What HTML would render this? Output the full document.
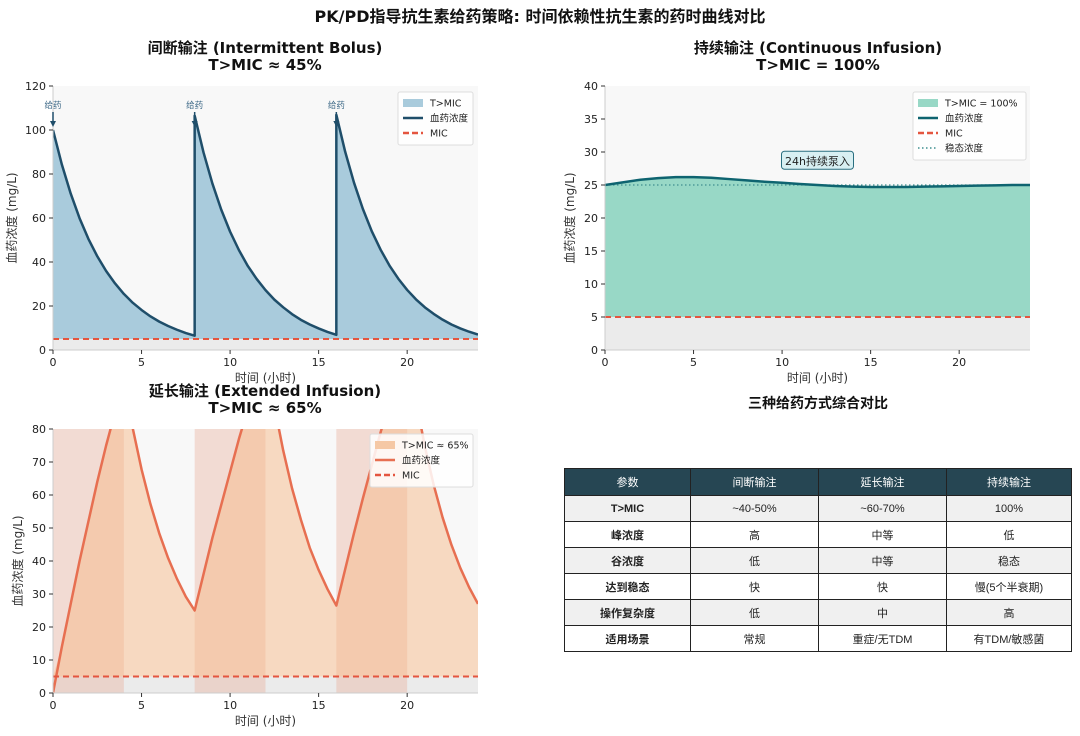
<!DOCTYPE html>
<html><head><meta charset="utf-8">
<style>
body{margin:0;background:#fff;width:1080px;height:736px;overflow:hidden;font-family:"Liberation Sans","Noto Sans CJK SC",sans-serif;}
svg text{font-family:"DejaVu Sans","Liberation Sans","Noto Sans CJK SC",sans-serif;}
table{position:absolute;left:564px;top:468px;width:508px;border-collapse:collapse;font-family:"Liberation Sans","Noto Sans CJK SC",sans-serif;font-size:11px;color:#222}
td,th{border:1px solid #222;text-align:center;height:25px;padding:0}
th{background:#264653;color:#fff;font-weight:normal;height:26px}
tr.g td{background:#f0f0f0}
td.b{font-weight:bold}
</style></head><body>
<svg id="s" width="1080" height="736" style="position:absolute;left:0;top:0">
<text x="540" y="22" text-anchor="middle" font-size="16" font-weight="bold" fill="#111">PK/PD指导抗生素给药策略: 时间依赖性抗生素的药时曲线对比</text>
<text x="265" y="53" text-anchor="middle" font-size="15" font-weight="bold" fill="#111">间断输注 (Intermittent Bolus)</text>
<text x="265" y="70" text-anchor="middle" font-size="15" font-weight="bold" fill="#111">T&gt;MIC ≈ 45%</text>
<text x="818" y="53" text-anchor="middle" font-size="15" font-weight="bold" fill="#111">持续输注 (Continuous Infusion)</text>
<text x="818" y="70" text-anchor="middle" font-size="15" font-weight="bold" fill="#111">T&gt;MIC = 100%</text>
<text x="265" y="396" text-anchor="middle" font-size="15" font-weight="bold" fill="#111">延长输注 (Extended Infusion)</text>
<text x="265" y="413" text-anchor="middle" font-size="15" font-weight="bold" fill="#111">T&gt;MIC ≈ 65%</text>
<text x="818" y="408" text-anchor="middle" font-size="14" font-weight="bold" fill="#111">三种给药方式综合对比</text>
</svg>
<table>
<tr><th style="width:125px">参数</th><th style="width:127px">间断输注</th><th style="width:127px">延长输注</th><th>持续输注</th></tr>
<tr class="g"><td class="b">T&gt;MIC</td><td>~40-50%</td><td>~60-70%</td><td>100%</td></tr>
<tr><td class="b">峰浓度</td><td>高</td><td>中等</td><td>低</td></tr>
<tr class="g"><td class="b">谷浓度</td><td>低</td><td>中等</td><td>稳态</td></tr>
<tr><td class="b">达到稳态</td><td>快</td><td>快</td><td>慢(5个半衰期)</td></tr>
<tr class="g"><td class="b">操作复杂度</td><td>低</td><td>中</td><td>高</td></tr>
<tr><td class="b">适用场景</td><td>常规</td><td>重症/无TDM</td><td>有TDM/敏感菌</td></tr>
</table>
<script>
const MIC = 5;
const xTicks = [0,5,10,15,20];
const bolusTicksY = [0,20,40,60,80,100,120];
const contTicksY = [0,5,10,15,20,25,30,35,40];
const extTicksY = [0,10,20,30,40,50,60,70,80];
const bolusT = [0,0.5,1,1.5,2,2.5,3,3.5,4,4.5,5,5.5,6,6.5,7,7.5,8,8,8.5,9,9.5,10,10.5,11,11.5,12,12.5,13,13.5,14,14.5,15,15.5,16,16,16.5,17,17.5,18,18.5,19,19.5,20,20.5,21,21.5,22,22.5,23,23.5,24];
const bolusC = [100,84.3,71.1,59.9,50.5,42.6,35.9,30.3,25.5,21.5,18.2,15.3,12.9,10.9,9.2,7.7,6.5,106.5,89.8,75.7,63.8,53.8,45.4,38.2,32.3,27.2,22.9,19.4,16.3,13.7,11.6,9.8,8.2,6.9,106.9,90.1,76,64.1,54,45.6,38.4,32.4,27.3,23,19.4,16.4,13.8,11.6,9.8,8.3,7];
const doseTimes = [0,8,16];
const contT = [0,1,2,3,4,5,6,7,8,9,10,11,12,13,14,15,16,17,18,19,20,21,22,23,24];
const contC = [25,25.4,25.8,26.05,26.2,26.2,26.1,25.9,25.7,25.5,25.35,25.15,25.0,24.85,24.75,24.7,24.7,24.7,24.75,24.8,24.85,24.9,24.95,25,25];
const steadyC = 25;
const extT = [0,0.5,1,1.5,2,2.5,3,3.5,4,4.5,5,5.5,6,6.5,7,7.5,8,8.5,9,9.5,10,10.5,11,11.5,12,12.5,13,13.5,14,14.5,15,15.5,16,16.5,17,17.5,18,18.5,19,19.5,20,20.5,21,21.5,22,22.5,23,23.5,24];
const extC = [0,14,27,40,52,64,75,85,95,80.3,67.8,57.3,48.4,40.9,34.6,29.2,25,36,47,57,67,77,86,95,103,87,73.5,62,52.5,44,37.3,31.5,26.5,37.5,48.5,59,69,79,88,97,105,88.6,74.7,63,53.2,44.9,37.9,32,27];
const infusionStart = [0,8,16];
const infusionLen = 4;

const svg = document.getElementById('s');
const NS = 'http://www.w3.org/2000/svg';
function mk(tag, attrs, parent){const e=document.createElementNS(NS,tag);for(const k in attrs)e.setAttribute(k,attrs[k]);(parent||svg).appendChild(e);return e;}

function panel(o){
  const sx = v => o.x0 + (v-0)/24*(o.x1-o.x0);
  const sy = v => o.yb - v/o.ymax*(o.yb-o.yt);
  const g = mk('g',{});
  
  
  const clipId = o.name+'-clip';
  const cp = mk('clipPath',{id:clipId},g); mk('rect',{x:o.x0,y:o.yt,width:o.x1-o.x0,height:o.yb-o.yt},cp);
  const bg = mk('rect',{x:o.x0,y:o.yt,width:o.x1-o.x0,height:o.yb-o.yt,fill:'#f8f8f8'},g);
  
  
  const sub = mk('rect',{x:o.x0,y:sy(MIC),width:o.x1-o.x0,height:o.yb-sy(MIC),fill:'#ebebeb'},g);
  
  
  const cg = mk('g',{'clip-path':'url(#'+clipId+')'},g);
  o.extra && o.extra(cg, sx, sy);
  let d = 'M'+sx(o.T[0])+','+sy(o.fillBase);
  o.T.forEach((t,i)=>{d+=' L'+sx(t)+','+sy(Math.max(o.C[i],o.fillBase));});
  d += ' L'+sx(o.T[o.T.length-1])+','+sy(o.fillBase)+' Z';
  const f = mk('path',{d:d,fill:o.fill,'fill-opacity':o.fillOp},cg);
  
  
  o.afterFill && o.afterFill(cg, sx, sy);
  let ld = '';
  o.T.forEach((t,i)=>{ld+=(i?' L':'M')+sx(t)+','+sy(o.C[i]);});
  const ln = mk('path',{d:ld,fill:'none',stroke:o.line,'stroke-width':2.5,'stroke-linejoin':'round'},cg);
  
  
  const mic = mk('line',{x1:o.x0,x2:o.x1,y1:sy(MIC),y2:sy(MIC),stroke:'#e4553f','stroke-width':2,'stroke-dasharray':'6,4'},g);
  
  
  mk('line',{x1:o.x0,x2:o.x0,y1:o.yt,y2:o.yb,stroke:'#ccc','stroke-width':1},g);
  mk('line',{x1:o.x0,x2:o.x1,y1:o.yb,y2:o.yb,stroke:'#ccc','stroke-width':1},g);
  xTicks.forEach(v=>{
    mk('line',{x1:sx(v),x2:sx(v),y1:o.yb,y2:o.yb+4,stroke:'#333'},g);
    const t = mk('text',{x:sx(v),y:o.yb+16,'text-anchor':'middle','font-size':11,fill:'#222'},g); t.textContent=v;
    
    
  });
  o.yTicks.forEach(v=>{
    mk('line',{x1:o.x0-4,x2:o.x0,y1:sy(v),y2:sy(v),stroke:'#333'},g);
    const t = mk('text',{x:o.x0-7,y:sy(v)+4,'text-anchor':'end','font-size':11,fill:'#222'},g); t.textContent=v;
    
    
  });
  const xl = mk('text',{x:(o.x0+o.x1)/2,y:o.yb+32,'text-anchor':'middle','font-size':12,fill:'#333'},g); xl.textContent='时间 (小时)';
  
  
  const yx=o.ylx, yy=(o.yt+o.yb)/2;
  const yl = mk('text',{x:yx,y:yy,'text-anchor':'middle','font-size':12,fill:'#333',transform:'rotate(-90 '+yx+' '+yy+')'},g); yl.textContent='血药浓度 (mg/L)';
  
  
  const L = o.legend;
  const lg = mk('g',{},g);
  
  
  mk('rect',{x:L.x,y:L.y,width:L.w,height:8+L.items.length*15,fill:'#fff','fill-opacity':0.85,stroke:'#ddd',rx:2},lg);
  L.items.forEach((it,i)=>{
    const cy = L.y+11+i*15;
    if(it.type==='patch') mk('rect',{x:L.x+5,y:cy-4,width:20,height:8,fill:it.color,'fill-opacity':it.op||1},lg);
    else mk('line',{x1:L.x+5,x2:L.x+25,y1:cy,y2:cy,stroke:it.color,'stroke-width':it.type==='dot'?1.5:2.5,'stroke-dasharray':it.type==='dash'?'6,3':(it.type==='dot'?'1.5,2.5':'none')},lg);
    const t = mk('text',{x:L.x+32,y:cy+3.5,'font-size':9.5,fill:'#222'},lg); t.textContent=it.label;
    
    
  });
  return {sx,sy,g};
}

const A = panel({name:'bolus',x0:53,x1:478,yt:86,yb:350,ymax:120,yTicks:bolusTicksY,T:bolusT,C:bolusC,fillBase:MIC,fill:'#a9cbdc',fillOp:1,line:'#1f4e6a',ylx:16,
  legend:{x:398,y:92,w:75,items:[{type:'patch',color:'#a9cbdc',label:'T>MIC'},{type:'line',color:'#1f4e6a',label:'血药浓度'},{type:'dash',color:'#e4553f',label:'MIC'}]}});
doseTimes.forEach(t=>{
  const x=A.sx(t);
  const lab = mk('text',{x:x,y:108,'text-anchor':'middle','font-size':8.5,fill:'#3f6a88'},A.g); lab.textContent='给药';
  
  
  mk('line',{x1:x,x2:x,y1:112,y2:125,stroke:'#1f4e6a','stroke-width':1.5},A.g);
  mk('path',{d:'M'+(x-3)+',121 L'+x+',127 L'+(x+3)+',121 Z',fill:'#1f4e6a'},A.g);
});

const B = panel({name:'continuous',x0:605,x1:1030,yt:86,yb:350,ymax:40,yTicks:contTicksY,T:contT,C:contC,fillBase:MIC,fill:'#98d8c6',fillOp:1,line:'#0e6470',ylx:574,
  afterFill:(cg,sx,sy)=>{
    const s = mk('line',{x1:sx(0),x2:sx(24),y1:sy(steadyC),y2:sy(steadyC),stroke:'#3f8f8f','stroke-width':1.3,'stroke-dasharray':'1.5,2.5'},cg);
    
    
  },
  legend:{x:913,y:92,w:113,items:[{type:'patch',color:'#98d8c6',label:'T>MIC = 100%'},{type:'line',color:'#0e6470',label:'血药浓度'},{type:'dash',color:'#e4553f',label:'MIC'},{type:'dot',color:'#3f8f8f',label:'稳态浓度'}]}});
{
  const bx=B.sx(12), by=B.sy(28.3);
  mk('rect',{x:bx-36,y:by-12,width:72,height:18,rx:3,fill:'#d8eff2',stroke:'#2a6f80','stroke-width':1},B.g);
  const t = mk('text',{x:bx,y:by+2,'text-anchor':'middle','font-size':11,fill:'#222'},B.g); t.textContent='24h持续泵入';
  
  
}

panel({name:'extended',x0:53,x1:478,yt:429,yb:693,ymax:80,yTicks:extTicksY,T:extT,C:extC,fillBase:MIC,fill:'#f5b98a',fillOp:0.5,line:'#e76f51',ylx:22,
  extra:(cg,sx,sy)=>{
    infusionStart.forEach(s=>{
      const r = mk('rect',{x:sx(s),y:429,width:sx(s+infusionLen)-sx(s),height:264,fill:'#e8a590','fill-opacity':0.35},cg);
      
      
    });
  },
  legend:{x:370,y:434,w:103,items:[{type:'patch',color:'#f5c8a5',label:'T>MIC ≈ 65%'},{type:'line',color:'#e76f51',label:'血药浓度'},{type:'dash',color:'#e4553f',label:'MIC'}]}});
</script>
</body></html>
